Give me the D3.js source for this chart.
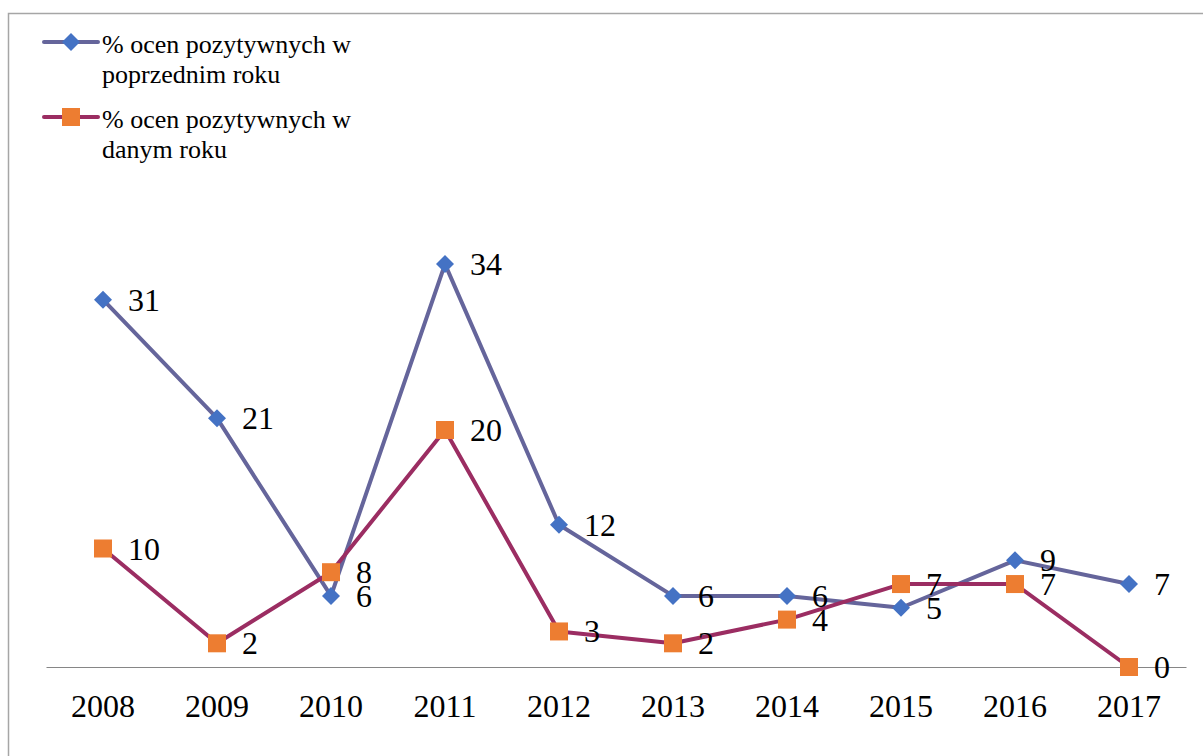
<!doctype html>
<html lang="en">
<head>
  <meta charset="utf-8" />
  <title>Oceny pozytywne</title>
  <script src="https://d3js.org/d3.v7.min.js"></script>
  <style>
    body { margin: 0; background: #fff; }
  </style>
</head>
<body>
<script type="text/javascript">

  var years = ["2008", "2009", "2010", "2011", "2012", "2013", "2014", "2015", "2016", "2017"];
  var previousYear = [31, 21, 6, 34, 12, 6, 6, 5, 9, 7];
  var currentYear = [10, 2, 8, 20, 3, 2, 4, 7, 7, 0];
  var seriesNames = [
    ["% ocen pozytywnych w", "poprzednim roku"],
    ["% ocen pozytywnych w", "danym roku"]
  ];

  var width = 1203, height = 756;
  var margin = { top: 193, right: 17, bottom: 89, left: 46 };
  var innerW = width - margin.left - margin.right,
      innerH = height - margin.top - margin.bottom;
  var serif = "'Liberation Serif', 'Times New Roman', serif";

  var svg = d3.select("body").append("svg")
    .attr("width", width)
    .attr("height", height)
    .attr("font-family", serif);

  // chart frame
  svg.append("rect")
    .attr("x", 8.5).attr("y", 13.5)
    .attr("width", 1210).attr("height", 760)
    .attr("fill", "none")
    .attr("stroke", "#a6a6a6")
    .attr("stroke-width", 1.5);

  var g = svg.append("g")
    .attr("transform", "translate(" + margin.left + "," + margin.top + ")");

  var x = d3.scaleBand().domain(years).range([0, innerW]);
  var y = d3.scaleLinear().domain([0, 40]).range([innerH, 0]);

  var xAxis = d3.axisBottom(x).tickSize(0).tickPadding(27);
  var ax = g.append("g")
    .attr("transform", "translate(0," + innerH + ")")
    .call(xAxis)
    .attr("font-family", serif)
    .attr("font-size", 32);
  ax.select(".domain").attr("stroke", "#868686").attr("stroke-width", 1.2);
  ax.selectAll("text").attr("fill", "#000");

  var cx = function(d, i) { return x(years[i]) + x.bandwidth() / 2; };

  var series = [
    { values: previousYear, line: "#65659b", marker: "#4472c4", shape: "diamond" },
    { values: currentYear, line: "#9b2d62", marker: "#ed7d31", shape: "square" }
  ];

  var line = d3.line()
    .x(function(d, i) { return cx(d, i); })
    .y(function(d) { return y(d); });

  function drawMarker(sel, s) {
    if (s.shape === "diamond") {
      sel.append("path")
        .attr("d", "M0,-9L9,0L0,9L-9,0Z")
        .attr("fill", s.marker);
    } else {
      sel.append("rect")
        .attr("x", -9).attr("y", -9)
        .attr("width", 18).attr("height", 18)
        .attr("fill", s.marker);
    }
  }

  series.forEach(function(s) {
    g.append("path")
      .datum(s.values)
      .attr("fill", "none")
      .attr("stroke", s.line)
      .attr("stroke-width", 4)
      .attr("stroke-linejoin", "round")
      .attr("d", line);
  });

  series.forEach(function(s) {
    var pts = g.append("g").selectAll("g")
      .data(s.values)
      .enter().append("g")
      .attr("transform", function(d, i) { return "translate(" + cx(d, i) + "," + y(d) + ")"; });
    pts.each(function() { drawMarker(d3.select(this), s); });
  });

  // data labels (drawn last so they sit on top)
  series.forEach(function(s) {
    g.append("g").selectAll("text")
      .data(s.values)
      .enter().append("text")
      .attr("x", function(d, i) { return cx(d, i) + 25; })
      .attr("y", function(d) { return y(d) + 11; })
      .attr("font-size", 32)
      .attr("fill", "#000")
      .text(function(d) { return d; });
  });

  // legend
  var legend = svg.append("g").attr("transform", "translate(44,42)");
  series.forEach(function(s, i) {
    var item = legend.append("g").attr("transform", "translate(0," + (i * 75) + ")");
    item.append("line")
      .attr("x1", 0).attr("x2", 54)
      .attr("stroke", s.line).attr("stroke-width", 4)
      .attr("stroke-linecap", "round");
    var m = item.append("g").attr("transform", "translate(27,0)");
    drawMarker(m, s);
    seriesNames[i].forEach(function(t, j) {
      item.append("text")
        .attr("x", 58).attr("y", 11 + j * 29.5)
        .attr("font-size", 26)
        .attr("fill", "#000")
        .text(t);
    });
  });

</script>
</body>
</html>
